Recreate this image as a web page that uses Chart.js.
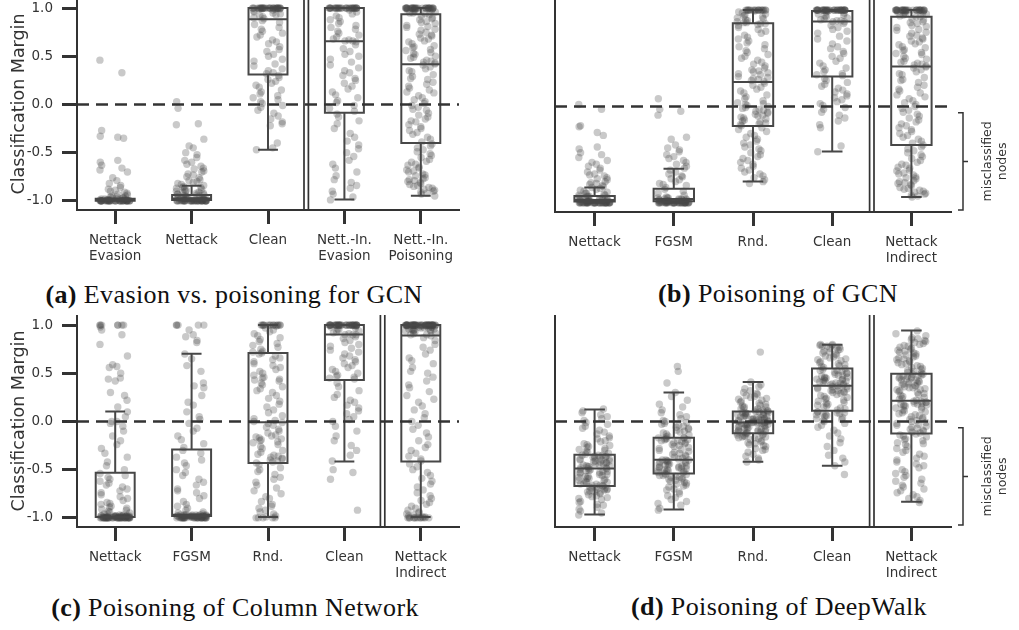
<!DOCTYPE html>
<html>
<head>
<meta charset="utf-8">
<script src="https://cdn.jsdelivr.net/npm/chart.js@4.4.1/dist/chart.umd.min.js"></script>
<style>
  html, body { margin: 0; padding: 0; background: #fff; width: 1019px; height: 630px; overflow: hidden; position: relative; }
  canvas { position: absolute; }
  .cap { position: absolute; font-family: "Liberation Serif", "DejaVu Serif", serif; font-size: 26px; letter-spacing: 0.4px; color: #111;
         white-space: nowrap; transform: translate(-50%, -50%); }
  .cap b { font-weight: bold; }
</style>
</head>
<body>
<canvas id="panelA" width="470" height="276" style="left:0px;top:-2px"></canvas>
<canvas id="panelB" width="514" height="276" style="left:505px;top:0px"></canvas>
<canvas id="panelC" width="470" height="276" style="left:0px;top:315px"></canvas>
<canvas id="panelD" width="514" height="276" style="left:505px;top:315px"></canvas>
<div class="cap" style="left:234px;top:295px"><b>(a)</b> Evasion vs. poisoning for GCN</div>
<div class="cap" style="left:778px;top:294px"><b>(b)</b> Poisoning of GCN</div>
<div class="cap" style="left:235px;top:608px"><b>(c)</b> Poisoning of Column Network</div>
<div class="cap" style="left:779px;top:607px"><b>(d)</b> Poisoning of DeepWalk</div>
<script>
// ---- categories and tick labels ----
const catsEvasion = [["Nettack", "Evasion"], "Nettack", "Clean", ["Nett.-In.", "Evasion"], ["Nett.-In.", "Poisoning"]];
const catsPoisoning = ["Nettack", "FGSM", "Rnd.", "Clean", ["Nettack", "Indirect"]];
const yTickValues = [-1, -0.5, 0, 0.5, 1];

// ---- (a) Evasion vs. poisoning for GCN: classification margins ----
const aNettackEvasion = [0.46,0.33,-0.27,-0.33,-0.34,-0.35,-0.58,-0.6,-0.63,-0.66,-0.68,-0.7,-0.76,-0.79,-0.82,-0.84,-0.86,-0.88,-0.89,-0.9,-0.91,-0.92,-0.93,-0.94,-0.95,-0.95,-0.96,-0.96,-0.97,-0.97,-0.97,-0.98,-0.98,-0.98,-0.98,-0.99,-0.99,-0.99,-0.99,-0.99,-0.99,-0.99,-0.99,-1,-1,-1,-1,-1,-1,-1,-1,-1,-1,-1,-1,-1,-1,-1,-1,-1,-1,-1,-1,-1,-1,-1,-1,-1,-1,-1,-1,-1,-1,-1,-1,-1,-1,-1,-1,-1,-1];
const aNettack = [0.03,-0.04,-0.2,-0.21,-0.36,-0.43,-0.45,-0.5,-0.52,-0.55,-0.58,-0.6,-0.62,-0.64,-0.66,-0.67,-0.69,-0.7,-0.72,-0.73,-0.75,-0.76,-0.78,-0.79,-0.8,-0.81,-0.82,-0.83,-0.84,-0.85,-0.86,-0.86,-0.87,-0.88,-0.88,-0.89,-0.9,-0.9,-0.91,-0.91,-0.92,-0.92,-0.93,-0.93,-0.94,-0.94,-0.95,-0.95,-0.95,-0.96,-0.96,-0.96,-0.97,-0.97,-0.97,-0.97,-0.98,-0.98,-0.98,-0.98,-0.99,-0.99,-0.99,-0.99,-0.99,-1,-1,-1,-1,-1,-1,-1,-1,-1,-1,-1,-1,-1,-1,-1,-1,-1,-1,-1,-1,-1,-1,-1,-1,-1,-1,-1,-1,-1,-1,-1,-1,-1,-1,-1];
const aClean = [1,1,1,1,1,1,1,1,1,1,1,1,1,1,1,1,1,1,1,1,1,1,1,1,1,1,1,1,1,1,0.99,0.99,0.99,0.99,0.98,0.97,0.96,0.95,0.94,0.93,0.92,0.91,0.9,0.89,0.87,0.85,0.83,0.8,0.78,0.76,0.74,0.72,0.7,0.67,0.65,0.63,0.6,0.57,0.55,0.52,0.5,0.47,0.45,0.42,0.4,0.37,0.35,0.33,0.32,0.3,0.28,0.26,0.24,0.22,0.2,0.18,0.15,0.13,0.11,0.09,0.07,0.05,0.03,0.01,-0.01,-0.03,-0.06,-0.09,-0.12,-0.15,-0.18,-0.2,-0.22,-0.4,-0.45,-0.47];
const aIndirectEvasion = [1,1,1,1,1,1,1,1,1,1,1,1,1,1,1,1,1,1,1,1,1,1,1,1,1,1,1,1,1,1,0.98,0.96,0.94,0.92,0.9,0.88,0.86,0.84,0.82,0.8,0.78,0.76,0.74,0.72,0.7,0.68,0.67,0.66,0.66,0.65,0.62,0.58,0.55,0.52,0.5,0.47,0.44,0.41,0.38,0.35,0.33,0.3,0.27,0.25,0.22,0.19,0.16,0.13,0.1,0.07,0.04,0.02,-0.01,-0.04,-0.07,-0.1,-0.13,-0.17,-0.2,-0.25,-0.3,-0.34,-0.38,-0.42,-0.46,-0.5,-0.54,-0.58,-0.62,-0.66,-0.7,-0.74,-0.78,-0.81,-0.84,-0.87,-0.9,-0.93,-0.96,-0.99];
const aIndirectPoisoning = [1,1,1,1,1,1,1,1,1,1,1,1,1,1,1,1,1,1,1,1,1,1,1,1,1,1,1,1,1,1,0.99,0.99,0.98,0.98,0.97,0.97,0.96,0.95,0.95,0.94,0.93,0.92,0.9,0.89,0.88,0.86,0.85,0.84,0.82,0.81,0.8,0.78,0.77,0.75,0.73,0.72,0.71,0.69,0.68,0.66,0.65,0.63,0.61,0.6,0.59,0.57,0.56,0.54,0.53,0.52,0.5,0.49,0.48,0.46,0.45,0.44,0.43,0.42,0.41,0.39,0.37,0.35,0.34,0.31,0.29,0.27,0.26,0.23,0.21,0.19,0.17,0.15,0.13,0.12,0.09,0.07,0.05,0.03,0.01,-0.01,-0.03,-0.05,-0.06,-0.09,-0.11,-0.13,-0.15,-0.17,-0.18,-0.21,-0.23,-0.25,-0.27,-0.29,-0.31,-0.34,-0.36,-0.39,-0.41,-0.43,-0.45,-0.47,-0.49,-0.51,-0.53,-0.55,-0.57,-0.59,-0.6,-0.62,-0.63,-0.65,-0.66,-0.68,-0.69,-0.7,-0.72,-0.73,-0.74,-0.76,-0.77,-0.78,-0.79,-0.8,-0.81,-0.82,-0.83,-0.84,-0.85,-0.86,-0.87,-0.88,-0.89,-0.9,-0.91,-0.92,-0.93,-0.95];
const aLow  = [-1.0, -1.0, -0.47, -0.985, -0.948];
const aQ1   = [-1.0, -0.99, 0.31, -0.087, -0.40];
const aMed  = [-1.0, -0.975, 0.885, 0.655, 0.418];
const aQ3   = [-0.977, -0.94, 1.0, 1.0, 0.937];
const aHigh = [-0.977, -0.843, 1.0, 1.0, 1.0];

// ---- (b) Poisoning of GCN ----
const bNettack = [0.02,-0.03,-0.2,-0.21,-0.27,-0.3,-0.42,-0.44,-0.48,-0.5,-0.53,-0.56,-0.58,-0.6,-0.62,-0.64,-0.66,-0.68,-0.7,-0.71,-0.72,-0.74,-0.75,-0.76,-0.78,-0.79,-0.8,-0.81,-0.82,-0.83,-0.84,-0.85,-0.86,-0.87,-0.88,-0.89,-0.9,-0.9,-0.91,-0.92,-0.92,-0.93,-0.93,-0.94,-0.94,-0.95,-0.95,-0.95,-0.96,-0.96,-0.96,-0.97,-0.97,-0.97,-0.97,-0.98,-0.98,-0.98,-0.98,-0.98,-0.99,-0.99,-0.99,-0.99,-0.99,-0.99,-1,-1,-1,-1,-1,-1,-1,-1,-1,-1,-1,-1,-1,-1,-1,-1,-1,-1,-1,-1,-1,-1,-1,-1,-1,-1,-1,-1,-1,-1,-1,-1,-1,-1,-1];
const bFgsm = [0.08,-0.03,-0.05,-0.09,-0.32,-0.34,-0.4,-0.43,-0.45,-0.47,-0.5,-0.52,-0.54,-0.56,-0.58,-0.6,-0.62,-0.64,-0.66,-0.68,-0.7,-0.72,-0.73,-0.75,-0.76,-0.78,-0.8,-0.81,-0.82,-0.84,-0.86,-0.88,-0.9,-0.92,-0.94,-0.95,-0.95,-0.95,-0.96,-0.96,-0.96,-0.96,-0.97,-0.97,-0.97,-0.97,-0.97,-0.98,-0.98,-0.98,-0.98,-0.98,-0.98,-0.99,-0.99,-0.99,-0.99,-0.99,-0.99,-0.99,-0.99,-1,-1,-1,-1,-1,-1,-1,-1,-1,-1,-1,-1,-1,-1,-1,-1,-1,-1,-1,-1,-1,-1,-1,-1,-1,-1,-1,-1,-1,-1];
const bRnd = [1,1,1,1,1,1,1,1,1,1,1,1,1,1,1,1,1,1,0.99,0.98,0.97,0.96,0.95,0.94,0.93,0.92,0.91,0.9,0.89,0.88,0.87,0.87,0.86,0.86,0.85,0.84,0.82,0.8,0.78,0.76,0.74,0.72,0.7,0.68,0.66,0.64,0.62,0.6,0.58,0.56,0.54,0.52,0.5,0.48,0.46,0.44,0.42,0.4,0.38,0.37,0.36,0.35,0.34,0.33,0.31,0.3,0.29,0.28,0.27,0.26,0.24,0.22,0.2,0.18,0.16,0.14,0.12,0.1,0.08,0.06,0.04,0.03,0.02,0.01,0.0,-0.01,-0.02,-0.03,-0.04,-0.05,-0.06,-0.07,-0.08,-0.09,-0.1,-0.11,-0.12,-0.13,-0.14,-0.15,-0.16,-0.17,-0.18,-0.19,-0.2,-0.22,-0.24,-0.26,-0.28,-0.3,-0.32,-0.34,-0.36,-0.38,-0.4,-0.42,-0.44,-0.46,-0.48,-0.5,-0.52,-0.54,-0.56,-0.58,-0.6,-0.62,-0.64,-0.66,-0.68,-0.7,-0.72,-0.74,-0.76,-0.78,-0.8];
const bClean = [1,1,1,1,1,1,1,1,1,1,1,1,1,1,1,1,1,1,1,1,1,1,1,1,1,1,1,1,1,1,1,1,1,1,1,1,0.99,0.98,0.97,0.96,0.95,0.94,0.93,0.92,0.91,0.9,0.89,0.89,0.88,0.88,0.86,0.84,0.82,0.8,0.78,0.76,0.73,0.7,0.68,0.65,0.62,0.6,0.57,0.55,0.52,0.5,0.47,0.45,0.42,0.4,0.38,0.36,0.34,0.33,0.32,0.29,0.27,0.25,0.23,0.21,0.19,0.17,0.15,0.13,0.11,0.09,0.07,0.05,0.03,0.01,-0.01,-0.03,-0.06,-0.09,-0.12,-0.15,-0.19,-0.22,-0.41,-0.47];
const bIndirect = [1,1,1,1,1,1,1,1,1,1,1,1,1,1,1,1,1,1,1,1,1,1,1,1,1,1,1,1,1,1,0.99,0.99,0.98,0.97,0.97,0.96,0.96,0.95,0.94,0.93,0.93,0.91,0.9,0.88,0.87,0.86,0.84,0.83,0.82,0.8,0.79,0.77,0.76,0.74,0.73,0.71,0.7,0.68,0.67,0.65,0.64,0.62,0.61,0.59,0.58,0.56,0.55,0.54,0.52,0.5,0.49,0.47,0.46,0.45,0.44,0.43,0.42,0.41,0.4,0.38,0.36,0.34,0.33,0.3,0.28,0.27,0.25,0.22,0.2,0.18,0.16,0.14,0.12,0.1,0.08,0.06,0.04,0.02,0.0,-0.02,-0.04,-0.06,-0.08,-0.1,-0.12,-0.14,-0.16,-0.18,-0.2,-0.22,-0.24,-0.26,-0.28,-0.3,-0.32,-0.34,-0.36,-0.38,-0.4,-0.42,-0.44,-0.46,-0.48,-0.5,-0.52,-0.54,-0.56,-0.58,-0.6,-0.61,-0.63,-0.64,-0.66,-0.67,-0.69,-0.7,-0.71,-0.73,-0.74,-0.75,-0.77,-0.78,-0.79,-0.8,-0.81,-0.82,-0.84,-0.85,-0.86,-0.87,-0.88,-0.89,-0.9,-0.91,-0.92,-0.93,-0.94];
const bLow  = [-1.0, -1.0, -0.778, -0.467, -0.94];
const bQ1   = [-0.985, -0.984, -0.203, 0.31, -0.40];
const bMed  = [-0.97, -0.961, 0.253, 0.882, 0.415];
const bQ3   = [-0.93, -0.854, 0.863, 0.99, 0.93];
const bHigh = [-0.84, -0.647, 1.0, 1.0, 1.0];

// ---- (c) Poisoning of Column Network ----
const cNettack = [1,1,1,1,1,1,1,0.98,0.95,0.9,0.8,0.68,0.59,0.57,0.56,0.5,0.45,0.44,0.42,0.3,0.27,0.22,0.15,0.1,0.05,0.0,0.0,-0.02,-0.05,-0.1,-0.15,-0.2,-0.24,-0.28,-0.33,-0.37,-0.42,-0.46,-0.5,-0.54,-0.56,-0.58,-0.6,-0.62,-0.64,-0.66,-0.68,-0.7,-0.72,-0.74,-0.76,-0.78,-0.8,-0.82,-0.84,-0.85,-0.86,-0.88,-0.89,-0.9,-0.91,-0.92,-0.93,-0.94,-0.95,-0.96,-0.96,-0.97,-0.97,-0.98,-0.98,-0.98,-0.98,-0.98,-0.98,-0.98,-0.98,-0.98,-0.98,-0.99,-0.99,-0.99,-0.99,-0.99,-0.99,-0.99,-0.99,-0.99,-0.99,-0.99,-0.99,-0.99,-0.99,-0.99,-1,-1,-1,-1,-1,-1,-1,-1,-1,-1,-1,-1,-1,-1,-1,-1,-1,-1,-1,-1,-1,-1,-1,-1,-1,-1,-1,-1,-1,-1,-1,-1,-1,-1,-1];
const cFgsm = [1,1,1,1,1,0.95,0.9,0.88,0.84,0.82,0.7,0.65,0.58,0.52,0.4,0.37,0.35,0.27,0.2,0.17,0.1,0.05,0.02,-0.02,-0.07,-0.1,-0.15,-0.19,-0.23,-0.27,-0.3,-0.33,-0.37,-0.4,-0.43,-0.46,-0.5,-0.53,-0.56,-0.6,-0.63,-0.66,-0.7,-0.72,-0.74,-0.77,-0.8,-0.83,-0.86,-0.88,-0.9,-0.92,-0.94,-0.95,-0.96,-0.97,-0.97,-0.97,-0.97,-0.97,-0.97,-0.97,-0.97,-0.98,-0.98,-0.98,-0.98,-0.98,-0.98,-0.98,-0.98,-0.98,-0.98,-0.99,-0.99,-0.99,-0.99,-0.99,-0.99,-0.99,-0.99,-0.99,-0.99,-0.99,-0.99,-1,-1,-1,-1,-1,-1,-1,-1,-1,-1,-1,-1,-1,-1,-1,-1,-1,-1,-1,-1,-1,-1,-1,-1,-1];
const cRnd = [1,1,1,1,1,1,1,1,1,1,1,1,1,1,1,0.99,0.97,0.95,0.93,0.91,0.89,0.87,0.85,0.83,0.81,0.79,0.77,0.75,0.73,0.72,0.71,0.7,0.68,0.66,0.64,0.62,0.6,0.58,0.56,0.54,0.52,0.5,0.48,0.46,0.45,0.44,0.43,0.42,0.4,0.38,0.36,0.34,0.32,0.3,0.27,0.24,0.21,0.18,0.15,0.12,0.09,0.06,0.03,0.01,0.0,-0.01,-0.02,-0.04,-0.06,-0.08,-0.1,-0.12,-0.14,-0.15,-0.16,-0.17,-0.18,-0.19,-0.2,-0.21,-0.22,-0.24,-0.26,-0.28,-0.3,-0.32,-0.34,-0.35,-0.36,-0.37,-0.38,-0.39,-0.4,-0.41,-0.42,-0.43,-0.45,-0.48,-0.5,-0.52,-0.55,-0.58,-0.6,-0.63,-0.66,-0.69,-0.72,-0.75,-0.78,-0.8,-0.83,-0.86,-0.88,-0.9,-0.92,-0.94,-0.96,-0.98,-0.99,-1,-1,-1,-1,-1];
const cClean = [1,1,1,1,1,1,1,1,1,1,1,1,1,1,1,1,1,1,1,1,1,1,1,1,1,1,1,1,1,1,1,1,1,1,1,1,1,1,0.99,0.98,0.97,0.96,0.95,0.94,0.93,0.92,0.91,0.9,0.9,0.9,0.88,0.86,0.84,0.82,0.8,0.78,0.76,0.74,0.72,0.7,0.68,0.66,0.64,0.62,0.6,0.58,0.56,0.54,0.52,0.5,0.48,0.47,0.46,0.45,0.44,0.4,0.36,0.32,0.28,0.25,0.22,0.2,0.17,0.14,0.11,0.08,0.05,0.02,0.0,-0.05,-0.1,-0.15,-0.2,-0.25,-0.3,-0.35,-0.41,-0.5,-0.53,-0.6,-0.92];
const cIndirect = [1,1,1,1,1,1,1,1,1,1,1,1,1,1,1,1,1,1,1,1,1,1,1,1,1,1,1,1,1,1,1,1,1,1,1,1,1,1,1,1,1,1,1,1,1,1,1,1,1,1,0.99,0.99,0.99,0.99,0.98,0.98,0.98,0.97,0.97,0.97,0.96,0.96,0.96,0.95,0.95,0.95,0.94,0.94,0.94,0.93,0.92,0.91,0.9,0.9,0.89,0.87,0.84,0.8,0.77,0.74,0.7,0.66,0.63,0.6,0.56,0.52,0.5,0.46,0.42,0.38,0.35,0.31,0.27,0.23,0.2,0.16,0.12,0.08,0.04,0.0,-0.04,-0.08,-0.12,-0.16,-0.2,-0.24,-0.27,-0.3,-0.33,-0.36,-0.39,-0.41,-0.44,-0.47,-0.5,-0.53,-0.56,-0.59,-0.62,-0.65,-0.68,-0.71,-0.74,-0.77,-0.8,-0.82,-0.84,-0.86,-0.88,-0.9,-0.92,-0.94,-0.95,-0.96,-0.97,-0.98,-0.99,-0.99,-1,-1,-1,-1,-1,-1,-1,-1,-1,-1,-1,-1];
const cLow  = [-1.0, -1.0, -0.99, -0.415, -0.99];
const cQ1   = [-0.99, -0.98, -0.432, 0.43, -0.415];
const cMed  = [-0.99, -0.968, -0.007, 0.903, 0.892];
const cQ3   = [-0.532, -0.29, 0.71, 1.0, 1.0];
const cHigh = [0.104, 0.703, 1.0, 1.0, 1.0];

// ---- (d) Poisoning of DeepWalk ----
const dNettack = [-0.97,-0.95,-0.93,-0.91,-0.89,-0.87,-0.86,-0.84,-0.83,-0.81,-0.8,-0.79,-0.78,-0.77,-0.76,-0.75,-0.74,-0.73,-0.73,-0.72,-0.71,-0.71,-0.7,-0.7,-0.69,-0.69,-0.68,-0.68,-0.67,-0.67,-0.66,-0.66,-0.65,-0.65,-0.64,-0.63,-0.63,-0.62,-0.61,-0.61,-0.6,-0.59,-0.59,-0.58,-0.57,-0.57,-0.56,-0.55,-0.55,-0.54,-0.53,-0.53,-0.52,-0.52,-0.51,-0.51,-0.5,-0.5,-0.49,-0.49,-0.48,-0.48,-0.47,-0.47,-0.46,-0.46,-0.45,-0.45,-0.44,-0.44,-0.43,-0.43,-0.42,-0.42,-0.41,-0.41,-0.4,-0.4,-0.39,-0.39,-0.38,-0.38,-0.37,-0.37,-0.36,-0.36,-0.35,-0.35,-0.35,-0.34,-0.33,-0.32,-0.31,-0.3,-0.29,-0.28,-0.27,-0.26,-0.25,-0.24,-0.23,-0.21,-0.2,-0.18,-0.17,-0.15,-0.13,-0.11,-0.09,-0.07,-0.05,-0.03,-0.01,0.01,0.03,0.05,0.07,0.09,0.11,0.13];
const dFgsm = [-0.92,-0.9,-0.87,-0.85,-0.83,-0.81,-0.79,-0.77,-0.75,-0.73,-0.71,-0.7,-0.68,-0.67,-0.66,-0.65,-0.64,-0.63,-0.62,-0.61,-0.6,-0.6,-0.59,-0.58,-0.58,-0.57,-0.56,-0.56,-0.55,-0.55,-0.54,-0.53,-0.53,-0.52,-0.52,-0.51,-0.51,-0.5,-0.5,-0.49,-0.49,-0.48,-0.48,-0.47,-0.47,-0.46,-0.46,-0.45,-0.45,-0.44,-0.44,-0.43,-0.43,-0.42,-0.42,-0.41,-0.41,-0.4,-0.4,-0.4,-0.39,-0.38,-0.37,-0.36,-0.35,-0.34,-0.33,-0.32,-0.31,-0.3,-0.29,-0.28,-0.27,-0.26,-0.25,-0.24,-0.23,-0.22,-0.22,-0.21,-0.2,-0.2,-0.19,-0.19,-0.18,-0.18,-0.17,-0.17,-0.17,-0.16,-0.15,-0.14,-0.13,-0.12,-0.11,-0.1,-0.09,-0.08,-0.07,-0.06,-0.05,-0.04,-0.03,-0.02,-0.01,0.0,0.01,0.03,0.05,0.07,0.09,0.12,0.15,0.18,0.22,0.26,0.3,0.4,0.52,0.57];
const dRnd = [-0.42,-0.4,-0.38,-0.36,-0.34,-0.32,-0.3,-0.29,-0.28,-0.26,-0.25,-0.24,-0.23,-0.22,-0.21,-0.2,-0.19,-0.18,-0.17,-0.17,-0.16,-0.16,-0.15,-0.15,-0.14,-0.14,-0.13,-0.13,-0.12,-0.12,-0.12,-0.11,-0.11,-0.1,-0.1,-0.1,-0.09,-0.09,-0.08,-0.08,-0.07,-0.07,-0.06,-0.06,-0.05,-0.05,-0.05,-0.04,-0.04,-0.03,-0.03,-0.03,-0.02,-0.02,-0.02,-0.01,-0.01,-0.01,-0.01,-0.01,0.0,0.0,0.0,0.01,0.01,0.01,0.02,0.02,0.02,0.03,0.03,0.03,0.04,0.04,0.05,0.05,0.05,0.06,0.06,0.07,0.07,0.07,0.08,0.08,0.09,0.09,0.09,0.1,0.1,0.1,0.11,0.11,0.12,0.12,0.13,0.13,0.14,0.15,0.15,0.16,0.17,0.18,0.19,0.2,0.21,0.22,0.23,0.24,0.25,0.26,0.27,0.28,0.29,0.3,0.32,0.34,0.36,0.38,0.41,0.72];
const dClean = [-0.55,-0.46,-0.42,-0.38,-0.35,-0.3,-0.26,-0.22,-0.18,-0.15,-0.12,-0.09,-0.06,-0.04,-0.02,0.0,0.01,0.02,0.03,0.04,0.05,0.06,0.07,0.07,0.08,0.08,0.09,0.09,0.1,0.1,0.12,0.13,0.14,0.15,0.16,0.17,0.18,0.19,0.2,0.21,0.22,0.23,0.24,0.25,0.26,0.27,0.28,0.29,0.3,0.3,0.31,0.32,0.32,0.33,0.34,0.34,0.35,0.35,0.36,0.36,0.37,0.38,0.38,0.39,0.39,0.4,0.4,0.41,0.41,0.42,0.42,0.43,0.43,0.44,0.44,0.45,0.45,0.46,0.46,0.47,0.48,0.48,0.49,0.5,0.5,0.51,0.52,0.53,0.53,0.54,0.55,0.56,0.57,0.58,0.59,0.6,0.61,0.62,0.63,0.64,0.65,0.66,0.67,0.68,0.69,0.7,0.71,0.72,0.73,0.74,0.75,0.76,0.77,0.77,0.78,0.78,0.79,0.79,0.8,0.8];
const dIndirect = [-0.84,-0.82,-0.8,-0.78,-0.76,-0.74,-0.72,-0.7,-0.68,-0.66,-0.64,-0.62,-0.6,-0.58,-0.56,-0.54,-0.52,-0.5,-0.48,-0.46,-0.44,-0.42,-0.4,-0.38,-0.36,-0.34,-0.32,-0.3,-0.28,-0.26,-0.24,-0.23,-0.22,-0.2,-0.19,-0.18,-0.16,-0.15,-0.14,-0.13,-0.12,-0.11,-0.1,-0.09,-0.08,-0.07,-0.06,-0.05,-0.04,-0.03,-0.02,-0.01,0.0,0.01,0.02,0.03,0.04,0.05,0.06,0.07,0.08,0.09,0.1,0.11,0.12,0.13,0.14,0.15,0.16,0.16,0.17,0.17,0.18,0.18,0.19,0.19,0.2,0.2,0.21,0.21,0.22,0.23,0.24,0.25,0.26,0.27,0.28,0.29,0.3,0.31,0.32,0.33,0.33,0.34,0.35,0.35,0.36,0.37,0.37,0.38,0.39,0.39,0.4,0.41,0.41,0.42,0.43,0.43,0.44,0.45,0.45,0.46,0.46,0.47,0.47,0.48,0.48,0.49,0.49,0.5,0.51,0.52,0.53,0.54,0.55,0.56,0.57,0.58,0.59,0.6,0.61,0.62,0.63,0.64,0.65,0.66,0.67,0.68,0.69,0.7,0.71,0.72,0.73,0.74,0.75,0.76,0.77,0.78,0.79,0.8,0.81,0.82,0.83,0.84,0.85,0.86,0.87,0.89,0.91,0.94];
const dLow  = [-0.965, -0.913, -0.418, -0.46, -0.833];
const dQ1   = [-0.669, -0.54, -0.121, 0.111, -0.125];
const dMed  = [-0.488, -0.397, -0.01, 0.37, 0.215];
const dQ3   = [-0.346, -0.169, 0.104, 0.55, 0.495];
const dHigh = [0.125, 0.301, 0.409, 0.796, 0.944];

// ---- drawing ----
const INK = '#333333';
const BOX_INK = '#474747';
const SANS = '"DejaVu Sans", sans-serif';

// spreads the points of one strip across its category (quadratic Weyl sequence)
function spread(k) { return (((k * k * 0.30901699 + k * 0.41) % 1) - 0.5) * 0.4; }

function boxLayer(low, q1, med, q3, high, splitAt, bracket) {
  return {
    id: 'boxLayer',
    afterDatasetsDraw(chart) {
      const { ctx, chartArea: ca, scales: { x, y } } = chart;
      ctx.save();
      ctx.strokeStyle = BOX_INK;
      ctx.lineWidth = 2;
      for (let i = 0; i < med.length; i++) {
        const cx = x.getPixelForValue(i);
        const hw = x.getPixelForValue(i + 0.255) - cx;
        const cw = x.getPixelForValue(i + 0.13) - cx;
        const yLo = y.getPixelForValue(low[i]);
        const y1 = y.getPixelForValue(q1[i]);
        const yM = y.getPixelForValue(med[i]);
        const y3 = y.getPixelForValue(q3[i]);
        const yHi = y.getPixelForValue(high[i]);
        ctx.beginPath();
        ctx.rect(cx - hw, y3, 2 * hw, y1 - y3);
        ctx.moveTo(cx - hw, yM); ctx.lineTo(cx + hw, yM);
        if (high[i] > q3[i]) {
          ctx.moveTo(cx, y3); ctx.lineTo(cx, yHi);
          ctx.moveTo(cx - cw, yHi); ctx.lineTo(cx + cw, yHi);
        }
        if (low[i] < q1[i]) {
          ctx.moveTo(cx, y1); ctx.lineTo(cx, yLo);
          ctx.moveTo(cx - cw, yLo); ctx.lineTo(cx + cw, yLo);
        }
        ctx.stroke();
      }
      // decision boundary at margin 0
      const y0 = y.getPixelForValue(0);
      ctx.strokeStyle = INK;
      ctx.lineWidth = 2.5;
      ctx.setLineDash([12, 7]);
      ctx.beginPath(); ctx.moveTo(ca.left, y0); ctx.lineTo(ca.right, y0); ctx.stroke();
      ctx.setLineDash([]);
      // double rule separating the last group
      const sx = x.getPixelForValue(splitAt);
      ctx.lineWidth = 1.7;
      ctx.beginPath();
      ctx.moveTo(sx - 2.2, ca.top); ctx.lineTo(sx - 2.2, ca.bottom);
      ctx.moveTo(sx + 2.2, ca.top); ctx.lineTo(sx + 2.2, ca.bottom);
      ctx.stroke();
      if (bracket) {
        const bx = ca.right + 12;
        const yt = y.getPixelForValue(bracket[0]);
        const yb = y.getPixelForValue(bracket[1]);
        const ym = (yt + yb) / 2;
        ctx.lineWidth = 1.5;
        ctx.beginPath();
        ctx.moveTo(bx - 5, yt); ctx.lineTo(bx, yt); ctx.lineTo(bx, yb); ctx.lineTo(bx - 5, yb);
        ctx.moveTo(bx, ym); ctx.lineTo(bx + 5, ym);
        ctx.stroke();
        ctx.translate(ca.right + 44, ym);
        ctx.rotate(-Math.PI / 2);
        ctx.fillStyle = INK;
        ctx.font = '12.5px ' + SANS;
        ctx.textAlign = 'center';
        ctx.textBaseline = 'middle';
        ctx.fillText('misclassified', 0, -7.5);
        ctx.fillText('nodes', 0, 7.5);
      }
      ctx.restore();
    }
  };
}

function makePanel(id, cats, strips, stats, opt) {
  const points = [];
  strips.forEach((vals, i) => vals.forEach((v, k) => points.push({ x: i + spread(k + i * 7), y: v })));
  return new Chart(document.getElementById(id), {
    type: 'scatter',
    data: { datasets: [{ data: points, pointRadius: 3.7, pointHoverRadius: 3.7,
      backgroundColor: 'rgba(70,70,70,0.29)', borderWidth: 0, clip: false }] },
    options: {
      responsive: false, animation: false, devicePixelRatio: 1,
      events: [],
      layout: { autoPadding: false, padding: { left: 0, top: 0, bottom: 0, right: opt.padRight } },
      plugins: { legend: { display: false }, tooltip: { enabled: false } },
      scales: {
        x: {
          type: 'linear', min: -0.5, max: 4.5, display: true,
          afterBuildTicks: s => { s.ticks = cats.map((c, i) => ({ value: i })); },
          afterFit: s => { s.height = 64; s.paddingLeft = 0; s.paddingRight = 0; },
          ticks: { callback: v => cats[Math.round(v)], autoSkip: false, maxRotation: 0,
                   font: { family: SANS, size: 13.5 }, color: INK, padding: 8 },
          grid: { display: true, drawOnChartArea: false, drawTicks: true, tickLength: 14, tickWidth: 3, tickColor: INK },
          border: { display: true, color: INK, width: 2 }
        },
        y: {
          type: 'linear', min: -1.095, max: 1.105, display: true,
          afterBuildTicks: s => { s.ticks = yTickValues.map(v => ({ value: v })); },
          afterFit: s => { s.width = opt.yWidth; s.paddingTop = 0; s.paddingBottom = 0; },
          ticks: { display: opt.showY, callback: v => v.toFixed(1),
                   font: { family: SANS, size: 13.5 }, color: INK, padding: 9 },
          grid: { display: opt.showY, drawOnChartArea: false, drawTicks: opt.showY, tickLength: 15, tickWidth: 3, tickColor: INK },
          border: { display: true, color: INK, width: 2 },
          title: { display: opt.showY, text: 'Classification Margin', color: INK,
                   font: { family: SANS, size: 17.5 }, padding: { top: 9, bottom: 0 } }
        }
      }
    },
    plugins: [boxLayer(stats[0], stats[1], stats[2], stats[3], stats[4], opt.splitAt, opt.bracket)]
  });
}

const misclassifiedSpan = [-0.065, -1.075];

makePanel('panelA', catsEvasion,
  [aNettackEvasion, aNettack, aClean, aIndirectEvasion, aIndirectPoisoning],
  [aLow, aQ1, aMed, aQ3, aHigh],
  { yWidth: 77, padRight: 11, showY: true, splitAt: 2.5, bracket: null });
makePanel('panelB', catsPoisoning,
  [bNettack, bFgsm, bRnd, bClean, bIndirect],
  [bLow, bQ1, bMed, bQ3, bHigh],
  { yWidth: 50, padRight: 68, showY: false, splitAt: 3.5, bracket: misclassifiedSpan });
makePanel('panelC', catsPoisoning,
  [cNettack, cFgsm, cRnd, cClean, cIndirect],
  [cLow, cQ1, cMed, cQ3, cHigh],
  { yWidth: 77, padRight: 11, showY: true, splitAt: 3.5, bracket: null });
makePanel('panelD', catsPoisoning,
  [dNettack, dFgsm, dRnd, dClean, dIndirect],
  [dLow, dQ1, dMed, dQ3, dHigh],
  { yWidth: 50, padRight: 68, showY: false, splitAt: 3.5, bracket: misclassifiedSpan });
</script>
</body>
</html>
